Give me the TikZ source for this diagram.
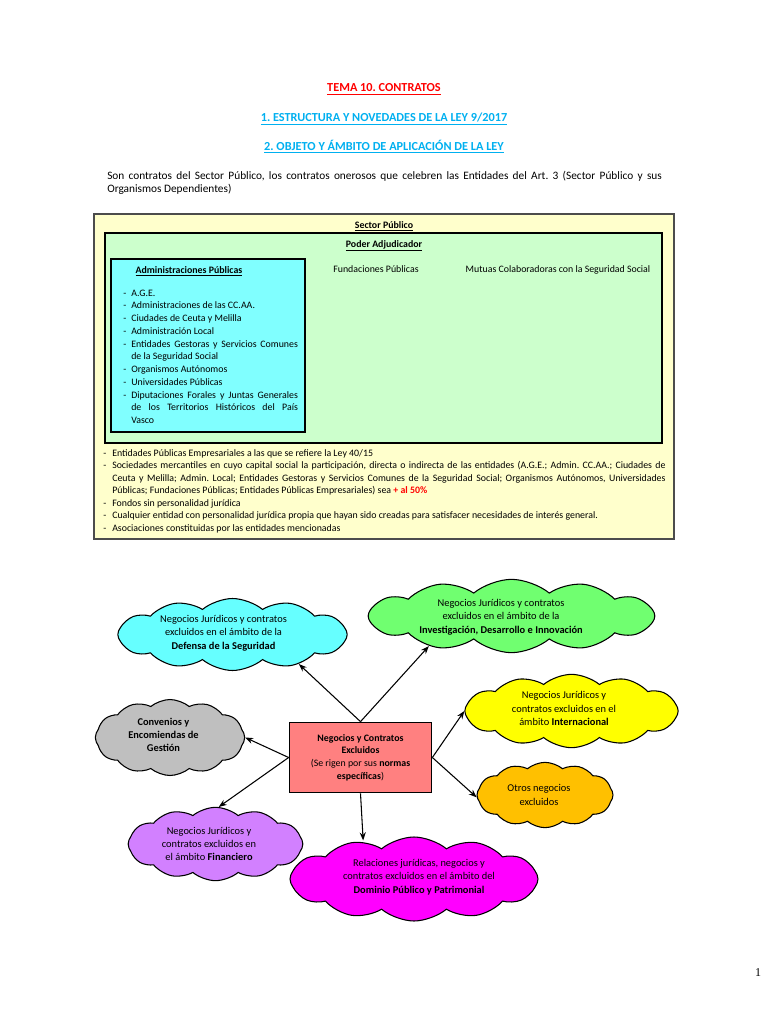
\documentclass[tikz,border=0pt]{standalone}
\usepackage{fontspec}
\setmainfont{Carlito}
\newfontfamily\pagefont{Liberation Serif}
\usetikzlibrary{shapes.symbols,arrows.meta}
\definecolor{temared}{HTML}{FF0000}
\definecolor{headblue}{HTML}{00B0F0}
\definecolor{sectoryellow}{HTML}{FFFFCC}
\definecolor{podergreen}{HTML}{CCFFCC}
\definecolor{admcyan}{HTML}{80FFFF}
\definecolor{nubecyan}{HTML}{66FFFF}
\definecolor{nubegreen}{HTML}{70FF70}
\definecolor{nubeyellow}{HTML}{FFFF00}
\definecolor{nubeorange}{HTML}{FFC000}
\definecolor{nubegray}{HTML}{BFBFBF}
\definecolor{nubeviolet}{HTML}{D280FF}
\definecolor{nubemagenta}{HTML}{FF00FF}
\definecolor{excred}{HTML}{FF8080}
\newcommand{\listaj}[1]{\makebox[125pt][s]{#1}}
\newcommand{\lineaj}[1]{\makebox[415pt][s]{#1}}
\frenchspacing
\begin{document}
\begin{tikzpicture}[x=0.75pt,y=-0.75pt,
  heading/.style={font=\fontsize{9.2}{11}\selectfont\bfseries,text=headblue,inner sep=0pt,anchor=base},
  texto/.style={font=\fontsize{8.5}{10}\selectfont,inner sep=0pt,anchor=base west},
  small/.style={font=\fontsize{7.4}{9}\selectfont,inner sep=0pt,anchor=base west},
  boxtitle/.style={font=\fontsize{7.4}{9}\selectfont\bfseries,inner sep=0pt,anchor=base},
  nube/.style={cloud,cloud puffs=12,cloud puff arc=80,cloud ignores aspect,draw=black,
    line width=0.8pt,inner sep=0pt},
  nubetxt/.style={align=center,inner sep=0pt,font=\fontsize{7.8}{10}\selectfont},
  flecha/.style={-{Stealth[length=6pt,width=4.5pt]},line width=0.8pt}]
\useasboundingbox[fill=white] (0,0) rectangle (768,1024);
\node[heading,text=temared] (tema) at (384,92) {\underline{TEMA 10. CONTRATOS}};
\node[heading] (h1) at (384,122) {\underline{1. ESTRUCTURA Y NOVEDADES DE LA LEY 9/2017}};
\node[heading] (h2) at (384,150) {\underline{2. OBJETO Y ÁMBITO DE APLICACIÓN DE LA LEY}};
\node[texto] (p1) at (107,179) {\makebox[416pt][s]{Son contratos del Sector Público, los contratos onerosos que celebren las Entidades del Art. 3 (Sector Público y sus}};
\node[texto] (p2) at (107,192) {Organismos Dependientes)};
\draw[fill=sectoryellow,draw=black!70,line width=1pt] (94,214) rectangle (674,539);
\draw[fill=podergreen,draw=black,line width=1pt] (105,233) rectangle (662,443);
\draw[fill=admcyan,draw=black,line width=0.8pt] (111,259) rectangle (305,432);
\node[boxtitle] (sector) at (384,228) {\underline{Sector Público}};
\node[boxtitle] (poder) at (384,247) {\underline{Poder Adjudicador}};
\node[boxtitle] (adm) at (189,273) {\underline{Administraciones Públicas}};
\node[small,anchor=base] (fund) at (376,272) {Fundaciones Públicas};
\node[small,anchor=base] (mutuas) at (558,272) {Mutuas Colaboradoras con la Seguridad Social};
\foreach \d/\t [count=\i from 0] in {-/{A.G.E.},-/{Administraciones de las CC.AA.},-/{Ciudades de Ceuta y Melilla},
  -/{Administración Local},-/{\listaj{Entidades Gestoras y Servicios Comunes}},{}/{de la Seguridad Social},
  -/{Organismos Autónomos},-/{Universidades Públicas},-/{\listaj{Diputaciones Forales y Juntas Generales}},
  {}/{\listaj{de los Territorios Históricos del País}},{}/{Vasco}}
  \node[small] (adm\i) at (123,296+12.77*\i) {\makebox[6pt][l]{\d}\t};
\foreach \d/\t [count=\i from 0] in {-/{Entidades Públicas Empresariales a las que se refiere la Ley 40/15},
  -/{\lineaj{Sociedades mercantiles en cuyo capital social la participación, directa o indirecta de las entidades (A.G.E.; Admin. CC.AA.; Ciudades de}},
  {}/{\lineaj{Ceuta y Melilla; Admin. Local; Entidades Gestoras y Servicios Comunes de la Seguridad Social; Organismos Autónomos, Universidades}},
  {}/{Públicas; Fundaciones Públicas; Entidades Públicas Empresariales) sea {\color{temared}\bfseries + al 50\%}},
  -/{Fondos sin personalidad jurídica},
  -/{Cualquier entidad con personalidad jurídica propia que hayan sido creadas para satisfacer necesidades de interés general.},
  -/{Asociaciones constituidas por las entidades mencionadas}}
  \node[small] (ent\i) at (103,456+12.5*\i) {\makebox[6.75pt][l]{\d}\t};
\node[draw=black,line width=0.8pt,fill=excred,minimum width=107pt,minimum height=53pt,align=center,
  font=\fontsize{7.4}{9.5}\selectfont] (exc) at (360.5,757.5)
  {\textbf{Negocios y Contratos}\\\textbf{Excluidos}\\(Se rigen por sus \textbf{normas}\\\textbf{específicas})};
\node[nube,fill=nubecyan,minimum width=172pt,minimum height=54pt] (def) at (232.5,634.5) {};
\node[nube,fill=nubegreen,minimum width=215pt,minimum height=55pt] (idi) at (511.5,616) {};
\node[nube,fill=nubeyellow,minimum width=160pt,minimum height=55pt] (intl) at (571.5,711) {};
\node[nube,fill=nubeorange,minimum width=102pt,minimum height=49pt] (otros) at (545,795) {};
\node[nube,fill=nubegray,minimum width=112pt,minimum height=57pt] (conv) at (170,737.5) {};
\node[nube,fill=nubeviolet,minimum width=131pt,minimum height=55pt] (fin) at (215.5,844) {};
\node[nube,fill=nubemagenta,minimum width=186pt,minimum height=63pt] (dom) at (414,879) {};
\node[nubetxt] (deftxt) at (223.5,633)
  {Negocios Jurídicos y contratos\\excluidos en el ámbito de la\\\textbf{Defensa de la Seguridad}};
\node[nubetxt] (iditxt) at (501,617)
  {Negocios Jurídicos y contratos\\excluidos en el ámbito de la\\\textbf{Investigación, Desarrollo e Innovación}};
\node[nubetxt] (intltxt) at (564,708.5)
  {Negocios Jurídicos y\\contratos excluidos en el\\ámbito \textbf{Internacional}};
\node[nubetxt] (otrostxt) at (539,795) {Otros negocios\\excluidos};
\node[nubetxt,font=\fontsize{7.8}{10}\selectfont\bfseries] (convtxt) at (163.5,735)
  {Convenios y\\Encomiendas de\\Gestión};
\node[nubetxt] (fintxt) at (209,844)
  {Negocios Jurídicos y\\contratos excluidos en\\el ámbito \textbf{Financiero}};
\node[nubetxt] (domtxt) at (419,877)
  {Relaciones jurídicas, negocios y\\contratos excluidos en el ámbito del\\\textbf{Dominio Público y Patrimonial}};
\draw[flecha] (exc.north) -- (def.336);
\draw[flecha] (exc.north) -- (idi.200);
\draw[flecha] (exc.west) -- (conv.0);
\draw[flecha] (exc.west) -- (fin.85);
\draw[flecha] (exc.south) -- ([xshift=2pt,yshift=-3pt]exc.south |- dom.north);
\draw[flecha] (exc.east) -- (intl.180);
\draw[flecha] (exc.east) -- (otros.182);
\node[font=\pagefont\fontsize{9}{10}\selectfont,anchor=base] (pag) at (758,976) {1};
\end{tikzpicture}
\end{document}
